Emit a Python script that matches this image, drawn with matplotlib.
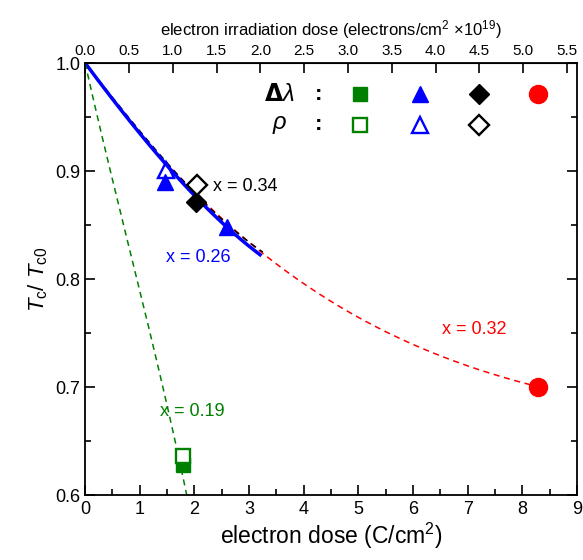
import numpy as np
import matplotlib
matplotlib.use('Agg')
import matplotlib.pyplot as plt
from matplotlib.ticker import MultipleLocator, FixedLocator

plt.rcParams['font.family'] = ['Liberation Sans', 'DejaVu Sans']
plt.rcParams['mathtext.fontset'] = 'custom'
plt.rcParams['mathtext.rm'] = 'Liberation Sans'
plt.rcParams['mathtext.it'] = 'Liberation Sans:italic'

# conversion C/cm^2 -> electrons/cm^2 x 1e19
C_TO_E = 0.624
top_ticks = [0.0, 0.5, 1.0, 1.5, 2.0, 2.5, 3.0, 3.5, 4.0, 4.5, 5.0, 5.5]

# data points (dose in C/cm^2, Tc/Tc0)
green_pen_x = [1.79]
green_pen_y = [0.628]
green_rho_x = [1.79]
green_rho_y = [0.636]
blue_pen_x = [1.46, 2.6]
blue_pen_y = [0.890, 0.848]
blue_rho_x = [1.48]
blue_rho_y = [0.901]
black_pen_x = [2.03]
black_pen_y = [0.871]
black_rho_x = [2.05]
black_rho_y = [0.887]
red_pen_x = [8.28]
red_pen_y = [0.700]

# guide curves
red_curve_x = [0, 1, 2, 3, 4, 5, 6, 7, 8.28]
red_curve_y = [1.0, 0.937, 0.880, 0.834, 0.795, 0.764, 0.740, 0.720, 0.700]
black_curve_x = [0, 1, 2, 3, 3.25]
black_curve_y = [1.0, 0.937, 0.880, 0.834, 0.825]
blue_curve_x = [0, 1, 2, 3, 3.2]
blue_curve_y = [1.0, 0.935, 0.877, 0.831, 0.822]
green_curve_x = [0, 0.46, 0.95, 1.42, 1.88]
green_curve_y = [1.0, 0.9, 0.8, 0.7, 0.595]


def smooth(x, y, n=200):
    xs = np.linspace(x[0], x[-1], n)
    c = np.polyfit(x, y, min(3, len(x) - 1))
    return xs, np.polyval(c, xs)


fig = plt.figure(figsize=(5.83, 5.6), dpi=100)
ax = fig.add_axes([0.146, 0.116, 0.844, 0.7715])

ax.plot(*smooth(red_curve_x, red_curve_y), '--', color='red', lw=1.1, dashes=(4, 3))
ax.plot(*smooth(black_curve_x, black_curve_y), '--', color='black', lw=1.1, dashes=(4, 3))
ax.plot(*smooth(blue_curve_x, blue_curve_y), '-', color='blue', lw=2.5)
ax.plot(*smooth(green_curve_x, green_curve_y), '--', color='green', lw=1.1, dashes=(4, 3))

ms = 11
ax.plot(green_pen_x, green_pen_y, 's', color='green', ms=ms - 1, zorder=5)
ax.plot(green_rho_x, green_rho_y, 's', mfc='white', mec='green', mew=1.7, ms=ms - 1, zorder=6)
ax.plot(blue_pen_x, blue_pen_y, '^', color='blue', ms=ms + 1, zorder=5)
ax.plot(blue_rho_x, blue_rho_y, '^', mfc='none', mec='blue', mew=1.7, ms=ms + 1, zorder=6)
ax.plot(black_pen_x, black_pen_y, 'D', color='black', ms=ms - 1, zorder=5)
ax.plot(black_rho_x, black_rho_y, 'D', mfc='white', mec='black', mew=1.7, ms=ms - 1, zorder=6)
ax.plot(red_pen_x, red_pen_y, 'o', color='red', ms=ms + 2, zorder=5)

# legend-like key
ax.text(3.56, 0.971, r'$\mathbf{\Delta}\lambda$', fontsize=17, family='DejaVu Serif',
        ha='center', va='center')
ax.text(3.56, 0.943, r'$\rho$', fontsize=17, family='DejaVu Serif', ha='center', va='center')
ax.text(4.27, 0.971, ':', fontsize=16, fontweight='bold', ha='center', va='center')
ax.text(4.27, 0.943, ':', fontsize=16, fontweight='bold', ha='center', va='center')
ax.plot([5.03], [0.971], 's', color='green', ms=ms - 1)
ax.plot([6.12], [0.971], '^', color='blue', ms=ms + 1)
ax.plot([7.2], [0.971], 'D', color='black', ms=ms - 1)
ax.plot([8.28], [0.971], 'o', color='red', ms=ms + 2)
ax.plot([5.03], [0.943], 's', mfc='white', mec='green', mew=1.7, ms=ms - 1)
ax.plot([6.12], [0.943], '^', mfc='none', mec='blue', mew=1.7, ms=ms + 1)
ax.plot([7.2], [0.943], 'D', mfc='white', mec='black', mew=1.7, ms=ms - 1)

ax.text(2.34, 0.886, 'x = 0.34', color='black', fontsize=13, va='center')
ax.text(1.48, 0.820, 'x = 0.26', color='blue', fontsize=13, va='center')
ax.text(6.53, 0.753, 'x = 0.32', color='red', fontsize=13, va='center')
ax.text(1.37, 0.677, 'x = 0.19', color='green', fontsize=13, va='center')

ax.set_xlim(0, 9)
ax.set_ylim(0.6, 1.0)
ax.xaxis.set_major_locator(MultipleLocator(1))
ax.xaxis.set_minor_locator(MultipleLocator(0.5))
ax.yaxis.set_major_locator(MultipleLocator(0.1))
ax.yaxis.set_minor_locator(MultipleLocator(0.05))
ax.yaxis.set_major_formatter(matplotlib.ticker.FormatStrFormatter('%.1f'))
ax.tick_params(which='both', direction='in', right=True, labelsize=13, width=1.2)
ax.tick_params(which='major', length=7)
ax.tick_params(which='minor', length=4)
ax.tick_params(axis='x', pad=4)
for s in ax.spines.values():
    s.set_linewidth(1.3)

ax.set_xlabel('electron dose (C/cm$^2$)', fontsize=16.5, labelpad=2)
ax.set_ylabel(r'$T_\mathrm{c}$/ $T_\mathrm{c0}$', fontsize=16, labelpad=4)

top = ax.secondary_xaxis('top', functions=(lambda x: x * C_TO_E, lambda x: x / C_TO_E))
top.xaxis.set_major_locator(FixedLocator(top_ticks))
top.xaxis.set_major_formatter(matplotlib.ticker.FormatStrFormatter('%.1f'))
top.tick_params(direction='in', length=7, width=1.2, labelsize=11)
top.set_xlabel(r'electron irradiation dose (electrons/cm$^2$ $\times$10$^{19}$)', fontsize=12, labelpad=6)

fig.savefig('out.png', dpi=100)
